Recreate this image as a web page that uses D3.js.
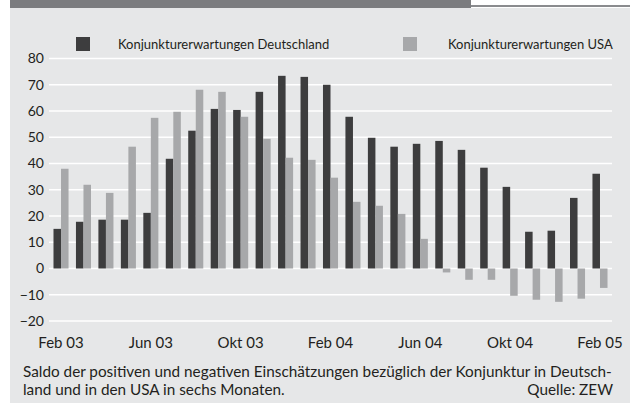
<!DOCTYPE html>
<html>
<head>
<meta charset="utf-8">
<script src="https://cdn.jsdelivr.net/npm/d3@7"></script>
<style>
  body { margin: 0; background: #fff; }
  text { font-family: Lato, "Open Sans", sans-serif; fill: #231f20; }
</style>
</head>
<body>
<div id="canvas"></div>
<script>
// monthly values, Feb 03 .. Feb 05
const months = ["Feb 03", "Mär 03", "Apr 03", "Mai 03", "Jun 03", "Jul 03", "Aug 03", "Sep 03",
  "Okt 03", "Nov 03", "Dez 03", "Jan 04", "Feb 04", "Mär 04", "Apr 04", "Mai 04", "Jun 04",
  "Jul 04", "Aug 04", "Sep 04", "Okt 04", "Nov 04", "Dez 04", "Jan 05", "Feb 05"];
const deutschland = [15.1, 17.8, 18.6, 18.6, 21.2, 41.8, 52.5, 60.8, 60.4, 67.3, 73.4, 73.0, 70.0,
  57.8, 49.8, 46.4, 47.5, 48.6, 45.2, 38.4, 31.1, 14.0, 14.4, 26.9, 36.1];
const usa = [38.0, 31.9, 28.8, 46.4, 57.4, 59.7, 68.1, 67.3, 57.8, 49.4, 42.2, 41.4, 34.6,
  25.4, 23.9, 20.8, 11.3, -1.5, -4.3, -4.3, -10.4, -11.9, -12.7, -11.5, -7.4];
const xTickLabels = ["Feb 03", "Jun 03", "Okt 03", "Feb 04", "Jun 04", "Okt 04", "Feb 05"];
const yTicks = [-20, -10, 0, 10, 20, 30, 40, 50, 60, 70, 80];
const seriesNames = ["Konjunkturerwartungen Deutschland", "Konjunkturerwartungen USA"];

const width = 635;
const height = 403;
const darkColor = "#3d3d3e";
const lightColor = "#a7a8aa";

const svg = d3.select("#canvas").append("svg")
  .attr("width", width)
  .attr("height", height);

// panel + header strip
svg.append("rect").attr("x", 10).attr("y", 8).attr("width", 620).attr("height", 395)
  .attr("fill", "#e6e7e8");
svg.append("rect").attr("x", 10).attr("y", 0).attr("width", 461).attr("height", 8)
  .attr("fill", "#7b7c7f");
svg.append("rect").attr("x", 471).attr("y", 5).attr("width", 159).attr("height", 2)
  .attr("fill", "#8a8b8e");

const data = months.map((m, i) => ({ month: m, de: deutschland[i], us: usa[i] }));

const x = d3.scaleBand()
  .domain(months)
  .range([49, 612])
  .paddingInner(0.33)
  .paddingOuter(0.2);

const xs = d3.scaleBand()
  .domain(["de", "us"])
  .range([0, x.bandwidth()]);

const y = d3.scaleLinear().domain([-20, 80]).range([321, 58.5]);

// gridlines
svg.append("g")
  .selectAll("line")
  .data(yTicks)
  .join("line")
  .attr("x1", 49)
  .attr("x2", 612)
  .attr("y1", (d) => y(d))
  .attr("y2", (d) => y(d))
  .attr("stroke", "#fff")
  .attr("stroke-width", 1.5);

// y axis labels
const yAxis = svg.append("g")
  .attr("transform", "translate(49,0)")
  .call(d3.axisLeft(y).tickValues(yTicks).tickSize(0).tickPadding(5));
yAxis.select(".domain").remove();
yAxis.selectAll("text").style("font-size", "14px").attr("font-family", null);

// bars
const groups = svg.append("g")
  .selectAll("g")
  .data(data)
  .join("g")
  .attr("transform", (d) => `translate(${x(d.month)},0)`);

groups.append("rect")
  .attr("x", xs("de"))
  .attr("width", xs.bandwidth())
  .attr("y", (d) => y(Math.max(0, d.de)))
  .attr("height", (d) => Math.abs(y(d.de) - y(0)))
  .attr("fill", darkColor);

groups.append("rect")
  .attr("x", xs("us"))
  .attr("width", xs.bandwidth())
  .attr("y", (d) => y(Math.max(0, d.us)))
  .attr("height", (d) => Math.abs(y(d.us) - y(0)))
  .attr("fill", lightColor);

// x axis
const xAxis = svg.append("g")
  .attr("transform", "translate(0,321)")
  .call(d3.axisBottom(x).tickValues(xTickLabels).tickSize(0).tickPadding(16));
xAxis.select(".domain").remove();
xAxis.selectAll("text").style("font-size", "15px").attr("font-family", null);

// legend
const legend = svg.append("g");
[[76, darkColor, 118], [403, lightColor, 448]].forEach(([lx, c, tx], i) => {
  legend.append("rect").attr("x", lx).attr("y", 37).attr("width", 14).attr("height", 14).attr("fill", c);
  legend.append("text").attr("x", tx).attr("y", 49).style("font-size", "13px").text(seriesNames[i]);
});

// caption
svg.append("text").attr("x", 23).attr("y", 377).style("font-size", "15.3px")
  .text("Saldo der positiven und negativen Einschätzungen bezüglich der Konjunktur in Deutsch-");
svg.append("text").attr("x", 23).attr("y", 395).style("font-size", "15.3px")
  .text("land und in den USA in sechs Monaten.");
svg.append("text").attr("x", 613).attr("y", 395).attr("text-anchor", "end").style("font-size", "15.3px")
  .text("Quelle: ZEW");
</script>
</body>
</html>
